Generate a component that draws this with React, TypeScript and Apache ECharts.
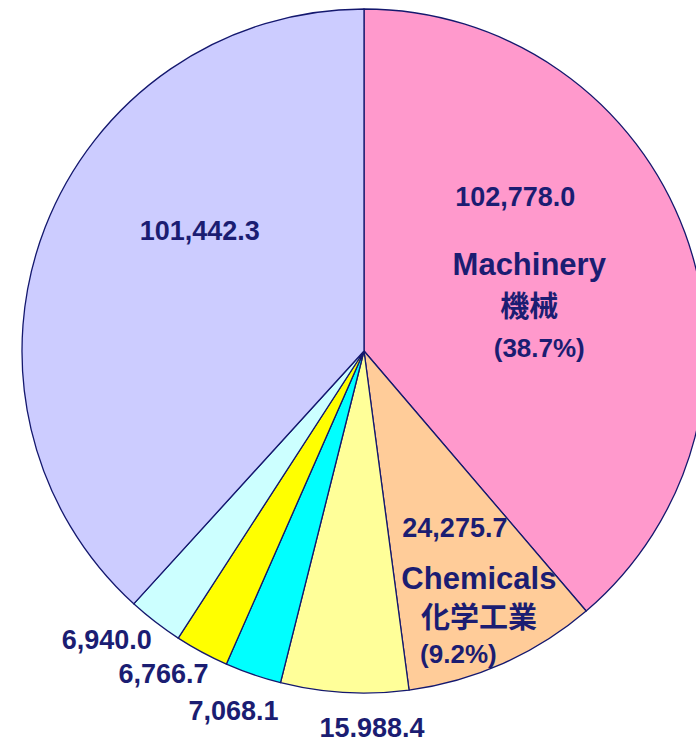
import React, { useEffect, useRef } from "react";
import * as echarts from "echarts";

// ---- data ----
const values = [102778.0, 24275.7, 15988.4, 7068.1, 6766.7, 6940.0, 101442.3];
const namesEn = ["Machinery", "Chemicals", "", "", "", "", ""];
const namesJa = ["機械", "化学工業", "", "", "", "", ""];
const colors = ["#FF99CC", "#FFCC99", "#FFFF99", "#00FFFF", "#FFFF00", "#CCFFFF", "#CCCCFF"];

// label shifts relative to the library's inside-label position
const labelShift: [number, number][] = [
  [2, -30],
  [44, 75],
  [18, 203],
  [-74, 195],
  [-118, 170],
  [-151, 151],
  [-2, -57],
];

const TEXT = "#1b1d72";
const LATIN = "'Liberation Sans', Arial, sans-serif";
const CJK = "'Noto Sans CJK JP', sans-serif";

const fmt = (v: number) =>
  v.toLocaleString("en-US", { minimumFractionDigits: 1, maximumFractionDigits: 1 });

export default function App() {
  const ref = useRef<HTMLDivElement>(null);
  useEffect(() => {
    if (!ref.current) return;
    const chart = echarts.init(ref.current, undefined, { renderer: "svg" });
    const total = values.reduce((a, b) => a + b, 0);
    const pct = (v: number) => ((v / total) * 100).toFixed(1) + "%";
    const data = values.map((v, i) => ({
      value: v,
      name: namesEn[i] || "s" + i,
      itemStyle: { color: colors[i] },
    }));
    const base = { fontFamily: LATIN, fontWeight: "bold" as const, color: TEXT, align: "center" as const };
    chart.setOption({
      animation: false,
      series: [
        {
          type: "pie",
          center: [364, 351],
          radius: 342,
          startAngle: 90,
          clockwise: true,
          avoidLabelOverlap: false,
          data,
          itemStyle: { borderColor: "#14186e", borderWidth: 1.3 },
          emphasis: { disabled: true },
          labelLine: { show: false },
          label: {
            show: true,
            position: "inside",
            color: TEXT,
            fontFamily: LATIN,
            fontWeight: "bold",
            formatter: (p: any) => {
              const i = p.dataIndex;
              const v = values[i];
              if (i === 0)
                return `{mNum|${fmt(v)}}\n{mName|${namesEn[i]}}\n{mJa|${namesJa[i]}}\n{mPct|(${pct(v)})}`;
              if (i === 1)
                return `{cNum|${fmt(v)}}\n{cName|${namesEn[i]}}\n{cJa|${namesJa[i]}}\n{cPct|(${pct(v)})}`;
              return `{num|${fmt(v)}}`;
            },
            rich: {
              num: { ...base, fontSize: 27, lineHeight: 32 },
              mNum: { ...base, fontSize: 27, lineHeight: 95, padding: [0, 28, 0, 0] },
              mName: { ...base, fontSize: 31, lineHeight: 40 },
              mJa: { ...base, fontFamily: CJK, fontSize: 29, lineHeight: 40 },
              mPct: { ...base, fontSize: 26, lineHeight: 48, padding: [0, 0, 0, 20] },
              cNum: { ...base, fontSize: 27, lineHeight: 66, padding: [0, 48, 0, 0] },
              cName: { ...base, fontSize: 31, lineHeight: 36 },
              cJa: { ...base, fontFamily: CJK, fontSize: 29, lineHeight: 36 },
              cPct: { ...base, fontSize: 26, lineHeight: 42, padding: [0, 41, 0, 0] },
            },
          },
          labelLayout: (params: any) => {
            const s = labelShift[params.dataIndex];
            return { dx: s[0], dy: s[1] };
          },
        },
      ],
    });
    return () => chart.dispose();
  }, []);
  return (
    <div
      ref={ref}
      style={{ position: "fixed", left: 0, top: 0, width: 696, height: 737, background: "#fff" }}
    />
  );
}
